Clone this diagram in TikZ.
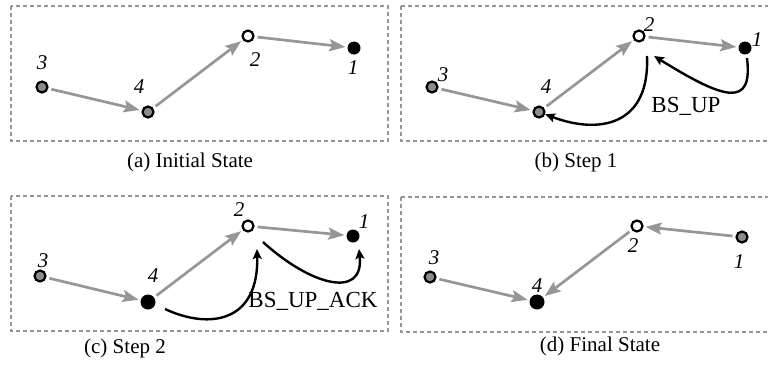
\documentclass[tikz,border=0pt]{standalone}
\usepackage{fontspec}
\setmainfont{Liberation Serif}
\usetikzlibrary{arrows.meta}
\definecolor{edgegray}{RGB}{150,150,150}
\definecolor{fillgray}{RGB}{140,140,140}
\begin{document}
\begin{tikzpicture}[x=1pt,y=-1pt,
  panel/.style={draw=edgegray,line width=1.9pt,dash pattern=on 4pt off 3pt},
  gnode/.style={circle,draw=black,line width=2.2pt,fill=fillgray,minimum size=11pt,inner sep=0pt},
  wnode/.style={gnode,fill=white},
  bnode/.style={circle,fill=black,minimum size=13pt,inner sep=0pt},
  bignode/.style={circle,fill=black,minimum size=15pt,inner sep=0pt},
  link/.style={draw=edgegray,line width=2.7pt,-{Stealth[length=16pt,width=12pt,inset=3pt]},shorten <=3pt,shorten >=2pt},
  msg/.style={draw=black,line width=2.4pt,-{Stealth[length=10pt,width=9pt,inset=2pt]}},
  num/.style={font=\fontsize{21}{23}\selectfont\itshape,inner sep=0pt},
  captext/.style={font=\fontsize{21}{24}\selectfont,inner sep=0pt},
  lbl/.style={font=\fontsize{23}{26}\selectfont,inner sep=0pt}]
\useasboundingbox (0,0) rectangle (768,368);

% panel frames
\draw[panel] (11,6) rectangle (388,141);
\draw[panel] (401,6) rectangle (772,141);
\draw[panel] (11,196) rectangle (388,331);
\draw[panel] (401,197) rectangle (772,332);

% (a) initial state
\node[gnode] (a3) at (42,87) {};
\node[gnode] (a4) at (148,112) {};
\node[wnode] (a2) at (248,36) {};
\node[bnode] (a1) at (354,48) {};
\node[num] (la3) at (42,63) {3};
\node[num] (la4) at (139,87) {4};
\node[num] (la2) at (255,60) {2};
\node[num] (la1) at (353,68) {1};
\draw[link] (a3) -- (a4);
\draw[link] (a4) -- (a2);
\draw[link] (a2) -- (a1);
\node[captext] (capa) at (190,162) {(a) Initial State};

% (b) step 1
\node[gnode] (b3) at (432,87) {};
\node[gnode] (b4) at (539,112) {};
\node[wnode] (b2) at (639,36) {};
\node[bnode] (b1) at (745,48) {};
\node[num] (lb3) at (443,75) {3};
\node[num] (lb4) at (546,87) {4};
\node[num] (lb2) at (649,25) {2};
\node[num] (lb1) at (757,40) {1};
\draw[link] (b3) -- (b4);
\draw[link] (b4) -- (b2);
\draw[link] (b2) -- (b1);
\coordinate (b2s) at (647,56);
\coordinate (b1s) at (747,58);
\draw[msg] (b2s) .. controls (650,125) and (600,135) .. (b4.-20);
\draw[msg] (b1s) .. controls (753,108) and (725,100) .. ([shift={(15pt,-20pt)}]b2.center);
\node[lbl] (bsup) at (686,106) {BS\_UP};
\node[captext] (capb) at (576,162) {(b) Step 1};

% (c) step 2
\node[gnode] (c3) at (40,276) {};
\node[bignode] (c4) at (148,302) {};
\node[wnode] (c2) at (248,226) {};
\node[bnode] (c1) at (353,236) {};
\node[num] (lc3) at (43,261) {3};
\node[num] (lc4) at (153,276) {4};
\node[num] (lc2) at (239,210) {2};
\node[num] (lc1) at (364,222) {1};
\draw[link] (c3) -- (c4);
\draw[link] (c4) -- (c2);
\draw[link] (c2) -- (c1);
\coordinate (c4s) at (165,309);
\coordinate (c2s) at (263,242);
\draw[msg] (c4s) .. controls (210,330) and (259,322) .. ([shift={(9pt,-23pt)}]c2.center);
\draw[msg] (c2s) .. controls (310,285) and (364,300) .. ([shift={(6pt,-13pt)}]c1.center);
\node[lbl] (bsupack) at (313,301) {BS\_UP\_ACK};
\node[captext] (capc) at (125,348) {(c) Step 2};

% (d) final state
\node[gnode] (d3) at (430,277) {};
\node[bignode] (d4) at (537,302) {};
\node[wnode] (d2) at (637,226) {};
\node[gnode] (d1) at (742,237) {};
\node[num] (ld3) at (434,258) {3};
\node[num] (ld4) at (537,286) {4};
\node[num] (ld2) at (633,246) {2};
\node[num] (ld1) at (739,262) {1};
\draw[link] (d3) -- (d4);
\draw[link] (d2) -- (d4);
\draw[link] (d1) -- (d2);
\node[captext] (capd) at (600,346) {(d) Final State};
\end{tikzpicture}
\end{document}
